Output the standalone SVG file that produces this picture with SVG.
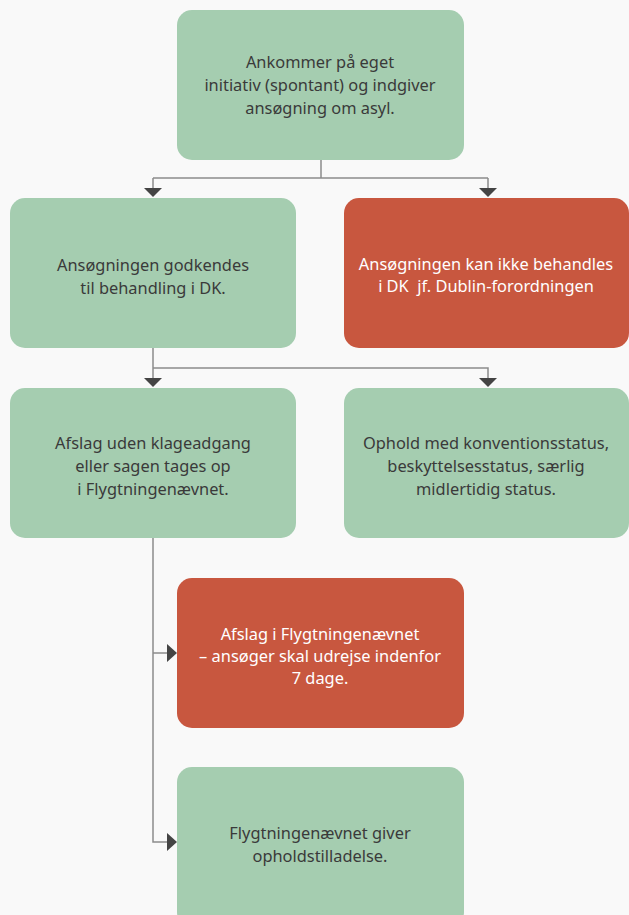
<svg xmlns="http://www.w3.org/2000/svg" width="629" height="915" viewBox="0 0 629 915">
<defs>
<style>
.g{fill:#a5cdb0}
.r{fill:#c8573f}
text{font-family:"Noto Sans","Open Sans","Liberation Sans",sans-serif;font-size:16.4px;text-anchor:middle}
.tg{fill:#3a3a3a}
.tr{fill:#ffffff}
.ln{fill:none;stroke:#8c8c8c;stroke-width:1.5}
.ah{fill:#444444}
</style>
</defs>
<rect width="629" height="915" fill="#f9f9f9"/>
<g id="connectors">
<path class="ln" d="M321 160V178M153 178H488M153 178V189M488 178V189"/>
<polygon class="ah" points="144,188 162,188 153,197"/>
<polygon class="ah" points="479,188 497,188 488,197"/>
<path class="ln" d="M153 348V368H488V379M153 368V379"/>
<polygon class="ah" points="144,378 162,378 153,387"/>
<polygon class="ah" points="479,378 497,378 488,387"/>
<path class="ln" d="M153 538V842H168M153 653H168"/>
<polygon class="ah" points="167,644 167,662 177,653"/>
<polygon class="ah" points="167,833 167,851 177,842"/>
</g>
<g id="n1"><rect class="g" x="177" y="10" width="287" height="150" rx="15"/>
<text class="tg"><tspan x="320" y="68">Ankommer på eget</tspan><tspan x="320" y="91">initiativ (spontant) og indgiver</tspan><tspan x="320" y="114">ansøgning om asyl.</tspan></text></g>
<g id="n2"><rect class="g" x="10" y="198" width="286" height="150" rx="15"/>
<text class="tg"><tspan x="153" y="271">Ansøgningen godkendes</tspan><tspan x="153" y="294">til behandling i DK.</tspan></text></g>
<g id="n3"><rect class="r" x="344" y="198" width="285" height="150" rx="15"/>
<text class="tr"><tspan x="486" y="270">Ansøgningen kan ikke behandles</tspan><tspan x="486" y="292">i DK&#160; jf. Dublin-forordningen</tspan></text></g>
<g id="n4"><rect class="g" x="10" y="388" width="286" height="150" rx="15"/>
<text class="tg"><tspan x="153" y="449">Afslag uden klageadgang</tspan><tspan x="153" y="472">eller sagen tages op</tspan><tspan x="153" y="495">i Flygtningenævnet.</tspan></text></g>
<g id="n5"><rect class="g" x="344" y="388" width="285" height="150" rx="15"/>
<text class="tg"><tspan x="486" y="449">Ophold med konventionsstatus,</tspan><tspan x="486" y="472">beskyttelsesstatus, særlig</tspan><tspan x="486" y="495">midlertidig status.</tspan></text></g>
<g id="n6"><rect class="r" x="177" y="578" width="287" height="150" rx="15"/>
<text class="tr"><tspan x="320" y="640">Afslag i Flygtningenævnet</tspan><tspan x="320" y="662">– ansøger skal udrejse indenfor</tspan><tspan x="320" y="684">7 dage.</tspan></text></g>
<g id="n7"><rect class="g" x="177" y="767" width="287" height="160" rx="15"/>
<text class="tg"><tspan x="320" y="839">Flygtningenævnet giver</tspan><tspan x="320" y="862">opholdstilladelse.</tspan></text></g>
</svg>
